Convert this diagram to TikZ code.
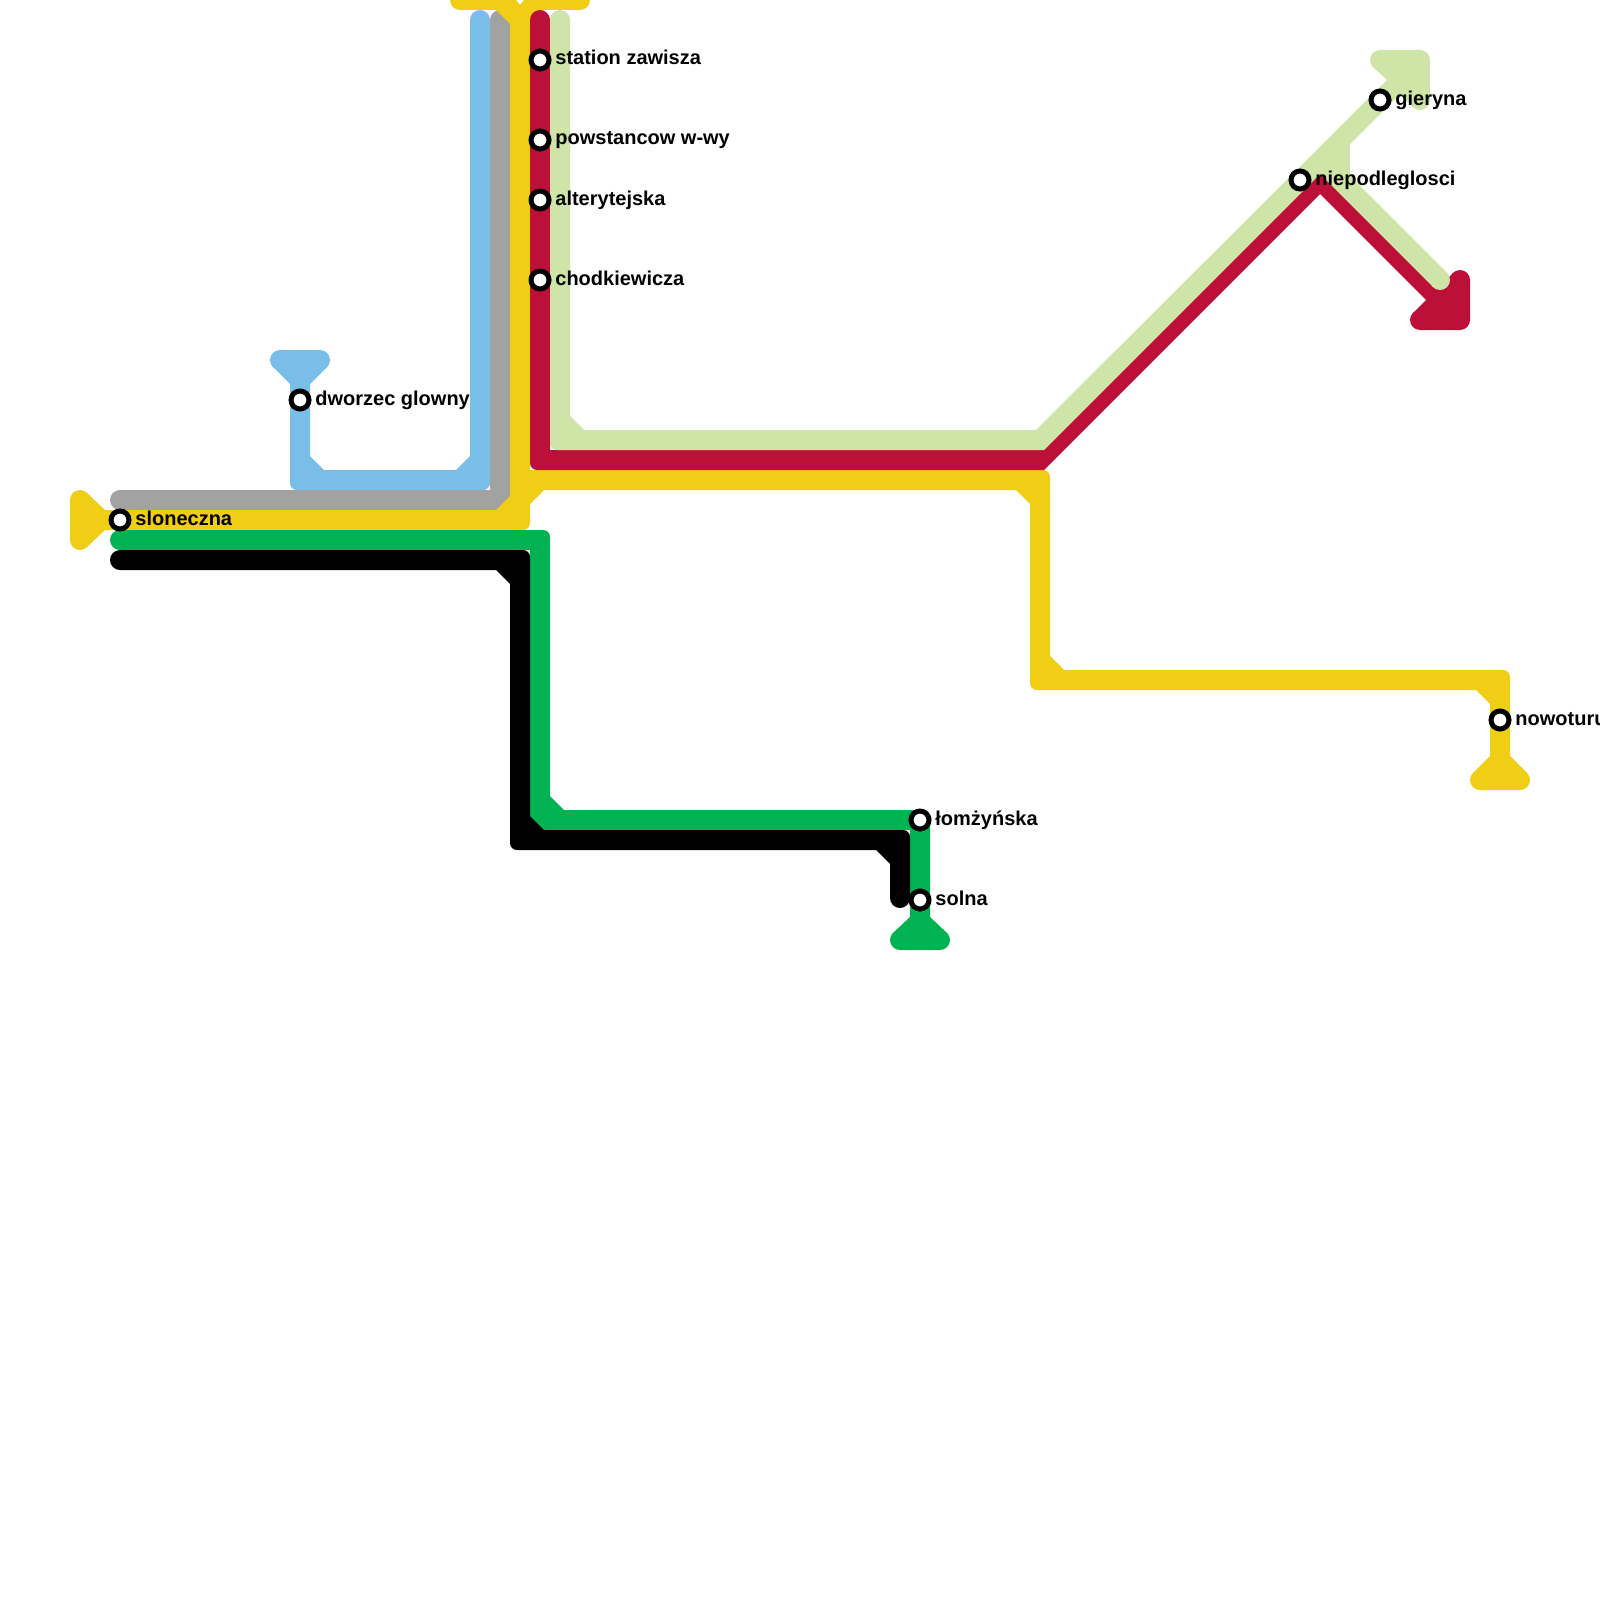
\documentclass[tikz,border=0pt]{standalone}
\usepackage{fontspec}
\setmainfont{Liberation Sans}
\definecolor{lyellow}{HTML}{F0CE15}
\definecolor{lred}{HTML}{BD1038}
\definecolor{llime}{HTML}{CFE4A7}
\definecolor{lblue}{HTML}{79BDE9}
\definecolor{lgray}{HTML}{A2A2A2}
\definecolor{lgreen}{HTML}{00B251}
\tikzset{
  R/.style={rounded corners=3.5pt},
  S/.style={sharp corners},
  stn/.style={circle,fill=white,draw=black,line width=2.5pt,minimum size=9pt,inner sep=0pt,outer sep=0pt},
  lbl/.style={anchor=west,inner sep=0pt,text height=7pt,text depth=2pt,font=\bfseries\fontsize{10}{12}\selectfont}
}
\begin{document}
\begin{tikzpicture}[x=0.5pt,y=-0.5pt]
\useasboundingbox (0,0) rectangle (1600,1600);
\fill[white] (0,0) rectangle (1600,1600);
\clip (0,0) rectangle (1600,1600);
% grey
\fill[lgray] (120,500) circle[radius=5pt] (500,20) circle[radius=5pt];
\fill[lgray] (120,490) -- (490,490) -- (490,20) -- (510,20) -- (510,510) -- (120,510) -- cycle;
% blue
\fill[lblue] (480,20) circle[radius=5pt] (280,360) circle[radius=5pt] (320,360) circle[radius=5pt];
\fill[lblue] (290,384) -- (273,367) -- (280,350) -- (320,350) -- (327,367) -- (310,384) -- (310,456) -- (324,470) -- (456,470) -- (470,456) -- (470,20) -- (490,20) [R] -- (490,490) [R] -- (290,490) [S] -- cycle;
% yellow
\fill[lyellow] (80,500) circle[radius=5pt] (80,540) circle[radius=5pt] (460,0) circle[radius=5pt] (580,0) circle[radius=5pt] (1480,780) circle[radius=5pt] (1520,780) circle[radius=5pt];
\fill[lyellow] (530,24) -- (530,470) [R] -- (1050,470) [S] -- (1050,656) -- (1064,670) [R] -- (1510,670) [S] -- (1510,756) -- (1527,773) -- (1520,790) -- (1480,790) -- (1473,773) -- (1490,756) -- (1490,704) -- (1476,690) [R] -- (1030,690) [S] -- (1030,504) -- (1016,490) -- (544,490) -- (530,504) [R] -- (530,530) [S] -- (105,530) -- (87,547) -- (70,540) -- (70,500) -- (87,493) -- (105,510) -- (496,510) -- (510,496) -- (510,24) -- (496,10) -- (460,10) -- (460,-20) -- (500,-20) -- (520,5) -- (540,-20) -- (580,-20) -- (580,10) -- (544,10) -- cycle;
% red
\fill[lred] (540,20) circle[radius=5pt] (1460,280) circle[radius=5pt] (1460,320) circle[radius=5pt] (1420,320) circle[radius=5pt];
\fill[lred] (530,20) -- (550,20) -- (550,450) -- (1036,450) -- (1320,166) -- (1440,286) -- (1453,273) -- (1470,280) -- (1470,320) -- (1460,330) -- (1420,330) -- (1413,313) -- (1426,300) -- (1320,194) -- (1044,470) [R] -- (530,470) [S] -- cycle;
% light green
\fill[llime] (560,20) circle[radius=5pt] (1420,100) circle[radius=5pt] (1440,280) circle[radius=5pt] (1380,60) circle[radius=5pt] (1420,60) circle[radius=5pt];
\fill[llime] (550,20) [R] -- (550,450) [S] -- (1044,450) -- (1320,174) -- (1433,287) -- (1447,273) -- (1350,176) -- (1350,144) -- (1400,94) -- (1413,107) -- (1430,100) -- (1430,60) -- (1420,50) -- (1380,50) -- (1373,67) -- (1387,80) -- (1036,430) -- (584,430) -- (570,416) -- (570,20) -- cycle;
% green
\fill[lgreen] (120,540) circle[radius=5pt] (900,940) circle[radius=5pt] (940,940) circle[radius=5pt];
\fill[lgreen] (120,530) [R] -- (550,530) [S] -- (550,796) -- (564,810) [R] -- (930,810) [S] -- (930,917) -- (947,933) -- (940,950) -- (900,950) -- (893,933) -- (910,917) -- (910,830) -- (530,830) -- (530,550) -- (120,550) -- cycle;
% black
\fill[black] (120,560) circle[radius=5pt] (900,898) circle[radius=5pt];
\fill[black] (120,550) [R] -- (530,550) [S] -- (530,816) -- (544,830) [R] -- (910,830) [S] -- (910,898) -- (890,898) -- (890,864) -- (876,850) [R] -- (510,850) [S] -- (510,584) -- (496,570) -- (120,570) -- cycle;
% stations
\node[stn] (s1) at (540,60) {};
\node[stn] (s2) at (540,140) {};
\node[stn] (s3) at (540,200) {};
\node[stn] (s4) at (540,280) {};
\node[stn] (s5) at (300,400) {};
\node[stn] (s6) at (120,520) {};
\node[stn] (s7) at (920,820) {};
\node[stn] (s8) at (920,900) {};
\node[stn] (s9) at (1300,180) {};
\node[stn] (s10) at (1380,100) {};
\node[stn] (s11) at (1500,720) {};
\node[lbl] (t1) at (555,60) {station zawisza};
\node[lbl] (t2) at (555,140) {powstancow w-wy};
\node[lbl] (t3) at (555,200) {alterytejska};
\node[lbl] (t4) at (555,280) {chodkiewicza};
\node[lbl] (t5) at (315,400) {dworzec glowny};
\node[lbl] (t6) at (135,520) {sloneczna};
\node[lbl] (t7) at (935,820) {łomżyńska};
\node[lbl] (t8) at (935,900) {solna};
\node[lbl] (t9) at (1315,180) {niepodleglosci};
\node[lbl] (t10) at (1395,100) {gieryna};
\node[lbl] (t11) at (1515,720) {nowoturu};
\end{tikzpicture}
\end{document}
